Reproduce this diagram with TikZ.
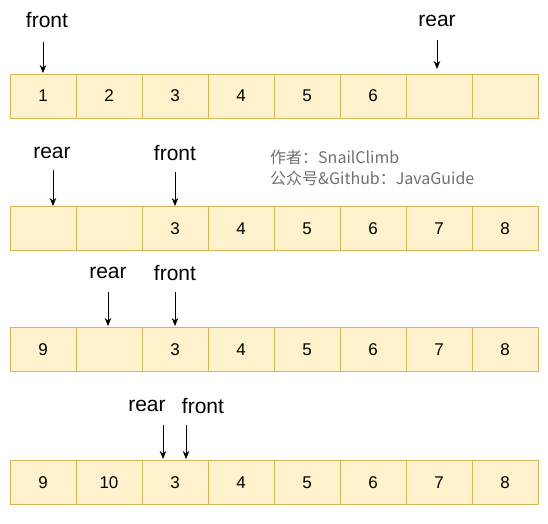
\documentclass[tikz,border=0pt]{standalone}
\usepackage{fontspec}
\setmainfont{Liberation Sans}
\newfontfamily\cjk{Noto Sans CJK SC}
\usetikzlibrary{arrows.meta}
\definecolor{cellfill}{HTML}{FFF2CC}
\definecolor{celldraw}{HTML}{D6B656}
\definecolor{markgray}{HTML}{707070}
\begin{document}
\begin{tikzpicture}[x=1pt,y=-1pt,
	cell/.style={draw=celldraw,fill=cellfill,line width=1pt,minimum width=66pt,
		minimum height=44pt,inner sep=0pt,font=\fontsize{17}{20}\selectfont},
	ptr/.style={inner sep=0pt,font=\fontsize{21}{24}\selectfont},
	wmtext/.style={anchor=west,inner sep=0pt,text=markgray,font=\fontsize{16}{19}\selectfont\cjk},
	arr/.style={-{Stealth[length=8pt,width=6.5pt]},line width=0.9pt}]

\useasboundingbox (0,0) rectangle (548,523);

% the four states of the queue
\foreach \v [count=\i] in {1,2,3,4,5,6,{},{}}
	\node[cell] (a\i) at ({43+66*(\i-1)},96) {\v};
\foreach \v [count=\i] in {{},{},3,4,5,6,7,8}
	\node[cell] (b\i) at ({43+66*(\i-1)},228.5) {\v};
\foreach \v [count=\i] in {9,{},3,4,5,6,7,8}
	\node[cell] (c\i) at ({43+66*(\i-1)},349.5) {\v};
\foreach \v [count=\i] in {9,10,3,4,5,6,7,8}
	\node[cell] (d\i) at ({43+66*(\i-1)},482.5) {\v};

% pointer labels
\node[ptr] (fa) at (47,20) {front};
\node[ptr] (ra) at (437,21) {rear};
\node[ptr] (rb) at (52,153) {rear};
\node[ptr] (fb) at (175,153) {front};
\node[ptr] (rc) at (108,273) {rear};
\node[ptr] (fc) at (175,273) {front};
\node[ptr] (rd) at (147,406) {rear};
\node[ptr] (fd) at (203,406) {front};

% arrow ends
\coordinate (fa1) at (43,42);  \coordinate (fa2) at (43,73);
\coordinate (ra1) at (437,40); \coordinate (ra2) at (437,69);
\coordinate (rb1) at (53,170); \coordinate (rb2) at (53,206);
\coordinate (fb1) at (175,172); \coordinate (fb2) at (175,206);
\coordinate (rc1) at (108,292); \coordinate (rc2) at (108,326);
\coordinate (fc1) at (175,292); \coordinate (fc2) at (175,326);
\coordinate (rd1) at (163,425); \coordinate (rd2) at (163,459);
\coordinate (fd1) at (186,425); \coordinate (fd2) at (186,459);

\foreach \p in {fa,ra,rb,fb,rc,fc,rd,fd}
{
	\draw[arr] (\p1) -- (\p2);
};

% watermark
\node[wmtext] (wm1) at (270,157) {作者：SnailClimb};
\node[wmtext] (wm2) at (270,178) {公众号\&Github：JavaGuide};
\end{tikzpicture}
\end{document}
